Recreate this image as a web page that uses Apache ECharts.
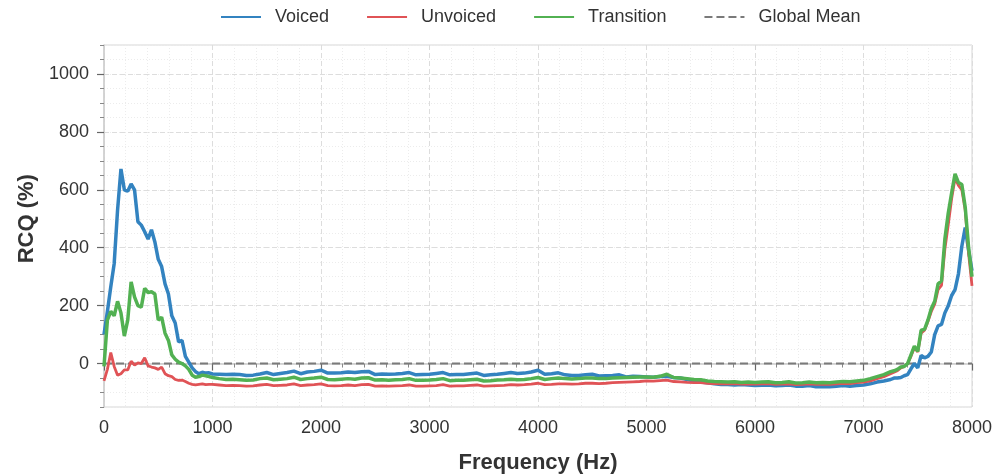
<!DOCTYPE html>
<html><head><meta charset="utf-8">
<script src="https://cdn.jsdelivr.net/npm/echarts@6/dist/echarts.min.js"></script>
<style>html,body{margin:0;padding:0;background:#fff}#c{width:998px;height:474px}</style>
</head><body><div id="c"></div>
<script>
// ---- data ----
const freq = [
  0,31.25,62.5,93.75,125,156.25,187.5,218.75,
  250,281.25,312.5,343.75,375,406.25,437.5,468.75,
  500,531.25,562.5,593.75,625,656.25,687.5,718.75,
  750,781.25,812.5,843.75,875,906.25,937.5,968.75,
  1000,1062.5,1125,1187.5,1250,1312.5,1375,1437.5,
  1500,1562.5,1625,1687.5,1750,1812.5,1875,1937.5,
  2000,2062.5,2125,2187.5,2250,2312.5,2375,2437.5,
  2500,2562.5,2625,2687.5,2750,2812.5,2875,2937.5,
  3000,3062.5,3125,3187.5,3250,3312.5,3375,3437.5,
  3500,3562.5,3625,3687.5,3750,3812.5,3875,3937.5,
  4000,4062.5,4125,4187.5,4250,4312.5,4375,4437.5,
  4500,4562.5,4625,4687.5,4750,4812.5,4875,4937.5,
  5000,5062.5,5125,5187.5,5250,5312.5,5375,5437.5,
  5500,5562.5,5625,5687.5,5750,5812.5,5875,5937.5,
  6000,6062.5,6125,6187.5,6250,6312.5,6375,6437.5,
  6500,6562.5,6625,6687.5,6750,6812.5,6875,6937.5,
  7000,7062.5,7125,7187.5,
  7250,7281.25,7312.5,7343.75,7375,7406.25,7437.5,7468.75,
  7500,7531.25,7562.5,7593.75,7625,7656.25,7687.5,7718.75,
  7750,7781.25,7812.5,7843.75,7875,7906.25,7937.5,7968.75,
  8000
];
const voiced = [
  100,180,265,345,530,672,600,595,
  620,600,490,478,455,430,462,420,
  360,335,275,240,165,140,75,80,
  25,5,-15,-28,-35,-30,-33,-32,
  -36,-37,-38,-37,-38,-41,-40,-36,
  -31,-38,-34,-31,-26,-35,-29,-27,
  -23,-33,-33,-32,-29,-31,-28,-27,
  -38,-36,-37,-36,-34,-31,-39,-38,
  -37,-34,-31,-39,-38,-38,-35,-33,
  -41,-39,-37,-34,-31,-34,-33,-29,
  -23,-37,-35,-32,-39,-41,-41,-39,
  -37,-43,-42,-41,-39,-46,-44,-45,
  -46,-47,-45,-44,-48,-50,-55,-60,
  -64,-66,-70,-72,-72,-74,-72,-74,
  -76,-75,-74,-77,-76,-74,-78,-78,
  -76,-80,-79,-80,-78,-76,-78,-76,
  -74,-70,-64,-60,
  -55,-50,-50,-48,-42,-38,-18,0,
  -15,28,20,25,40,100,130,135,
  175,200,235,255,310,405,470,390,
  320
];
const unvoiced = [
  -60,-20,38,-10,-40,-35,-22,-22,
  8,-5,2,0,20,-8,-12,-15,
  -20,-12,-35,-42,-45,-55,-58,-57,
  -62,-68,-72,-74,-72,-70,-73,-72,
  -72,-74,-76,-75,-76,-78,-77,-74,
  -72,-76,-75,-74,-70,-76,-74,-73,
  -70,-76,-77,-76,-74,-76,-73,-72,
  -78,-77,-78,-77,-76,-74,-78,-78,
  -77,-76,-73,-78,-77,-77,-75,-74,
  -78,-77,-76,-75,-73,-74,-73,-71,
  -68,-73,-72,-70,-70,-71,-70,-68,
  -68,-69,-68,-66,-65,-64,-63,-62,
  -60,-61,-59,-57,-62,-63,-65,-66,
  -66,-68,-69,-70,-70,-69,-71,-70,
  -71,-70,-69,-72,-71,-70,-73,-72,
  -70,-72,-71,-72,-70,-68,-69,-66,
  -64,-60,-52,-45,
  -35,-30,-25,-15,-10,0,25,55,
  40,105,115,145,180,205,255,270,
  395,480,570,640,615,600,530,380,
  268
];
const transition = [
  -10,150,180,165,215,175,95,150,
  282,230,200,195,260,245,248,240,
  150,160,105,80,30,15,5,0,
  -8,-20,-40,-47,-45,-40,-42,-45,
  -48,-52,-55,-54,-56,-58,-57,-52,
  -50,-56,-54,-52,-47,-55,-52,-50,
  -47,-55,-56,-54,-52,-54,-50,-49,
  -57,-56,-58,-56,-55,-52,-58,-58,
  -57,-55,-52,-59,-58,-58,-56,-54,
  -60,-59,-57,-56,-54,-56,-55,-52,
  -48,-55,-52,-50,-52,-53,-52,-50,
  -50,-52,-52,-50,-49,-48,-47,-46,
  -46,-47,-44,-37,-48,-50,-52,-55,
  -56,-60,-62,-63,-64,-63,-65,-64,
  -65,-64,-63,-66,-65,-63,-67,-66,
  -64,-66,-65,-66,-64,-62,-63,-60,
  -58,-52,-45,-38,
  -28,-25,-20,-12,-10,0,30,60,
  42,115,118,150,190,215,275,285,
  430,520,590,655,625,618,540,400,
  300
];
const globalMean = 0;
const seriesNames = ['Voiced','Unvoiced','Transition','Global Mean'];

// ---- chart ----
const pair = arr => freq.map((f,i) => [f, arr[i]]);
const chart = echarts.init(document.getElementById('c'), null, {renderer:'canvas'});
const GT = 45, GB = 67, YMIN = -150, YMAX = 1100;
const H = 474 - GT - GB;
const pxPer = H / (YMAX - YMIN);
const topMajor = GT + (YMAX - 1000) * pxPer;
const botMajor = 474 - (GT + (YMAX - 0) * pxPer);
const font = 'Liberation Sans, Arial, sans-serif';
const plain = v => String(v);

chart.setOption({
  animation:false,
  backgroundColor:'#fff',
  legend:{
    data:seriesNames, left:215, top:3, itemWidth:40, itemHeight:14, itemGap:37,
    itemStyle:{opacity:0},
    textStyle:{fontSize:18, color:'#333', fontFamily:font, padding:[0,0,0,9]}
  },
  grid:[
    {left:104, right:26, top:GT, bottom:GB, show:true, borderColor:'#d6d6d6', borderWidth:1,
     containLabel:false, outerBoundsMode:'none'},
    {left:104, right:26, top:topMajor, bottom:botMajor, containLabel:false, outerBoundsMode:'none'}
  ],
  xAxis:[
    {type:'value', gridIndex:0, min:0, max:8000, interval:1000,
     name:'Frequency (Hz)', nameLocation:'middle', nameGap:45,
     nameTextStyle:{fontSize:22, fontWeight:'bold', color:'#333', fontFamily:font},
     axisLine:{show:true, lineStyle:{color:'#cccccc', width:1.5}},
     axisTick:{show:true, length:7, lineStyle:{color:'#666', width:1.2}},
     minorTick:{show:true, splitNumber:5, length:4, lineStyle:{color:'#888', width:1}},
     axisLabel:{fontSize:18, color:'#333', margin:12, fontFamily:font, formatter:plain},
     splitLine:{show:true, lineStyle:{color:'#dddddd', type:[5,3], width:1}},
     minorSplitLine:{show:true, lineStyle:{color:'#ececec', type:[1,2], width:1}}
    },
    {type:'value', gridIndex:1, min:0, max:8000, show:false}
  ],
  yAxis:[
    {type:'value', gridIndex:0, min:YMIN, max:YMAX, interval:50,
     axisLine:{show:true, lineStyle:{color:'#cccccc', width:1.5}},
     axisTick:{show:true, length:4, lineStyle:{color:'#888', width:1}},
     axisLabel:{show:false},
     splitLine:{show:true, lineStyle:{color:'#ececec', type:[1,2], width:1}}
    },
    {type:'value', gridIndex:1, min:0, max:1000, interval:200,
     name:'RCQ (%)', nameLocation:'middle', nameGap:62,
     nameTextStyle:{fontSize:22, fontWeight:'bold', color:'#333', fontFamily:font},
     axisLine:{show:false},
     axisTick:{show:true, length:7, lineStyle:{color:'#666', width:1.2}},
     axisLabel:{fontSize:18, color:'#333', margin:15, fontFamily:font, formatter:plain},
     splitLine:{show:true, lineStyle:{color:'#dddddd', type:[5,3], width:1}}
    }
  ],
  series:[
    {name:'Global Mean', type:'line', xAxisIndex:0, yAxisIndex:0, symbol:'none', z:1,
     data:[[freq[0], globalMean],[freq[freq.length-1], globalMean]],
     lineStyle:{color:'#7a7a7a', width:2, type:[8,4]}, itemStyle:{color:'#7a7a7a'}},
    {name:'Voiced', type:'line', symbol:'none', z:2, data:pair(voiced),
     lineStyle:{color:'#3383c0', width:3.5}, itemStyle:{color:'#3383c0'}},
    {name:'Unvoiced', type:'line', symbol:'none', z:3, data:pair(unvoiced),
     lineStyle:{color:'#e05356', width:2.8}, itemStyle:{color:'#e05356'}},
    {name:'Transition', type:'line', symbol:'none', z:4, data:pair(transition),
     lineStyle:{color:'#52b152', width:3.5}, itemStyle:{color:'#52b152'}},
    {type:'line', xAxisIndex:1, yAxisIndex:1, data:[], silent:true}
  ]
});
</script></body></html>
